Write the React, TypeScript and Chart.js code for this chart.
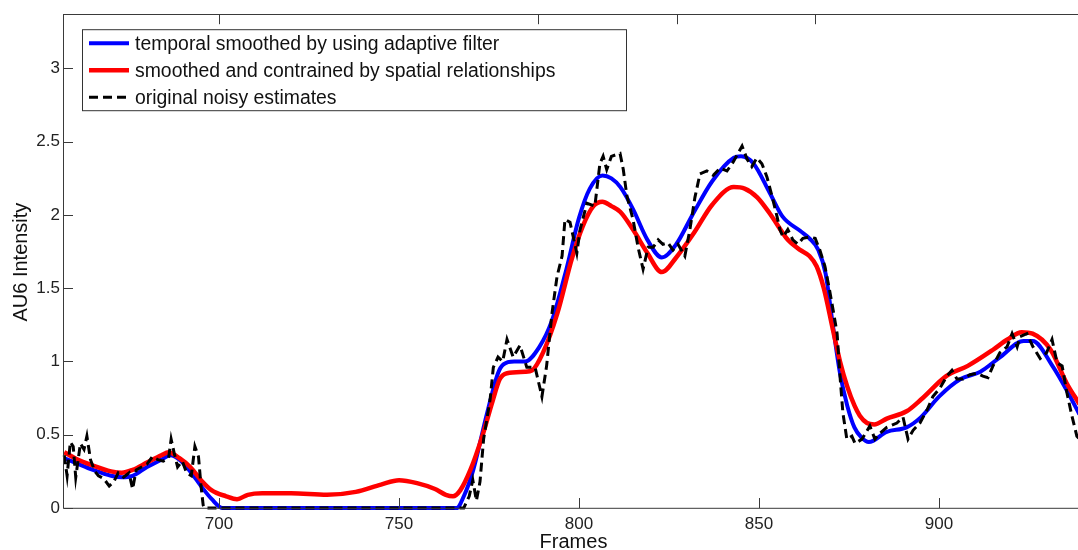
import React, { useEffect, useRef } from "react";
import { Chart, registerables } from "chart.js";

Chart.register(...registerables);

const xTicks = [700, 750, 800, 850, 900];
const yTicks = [0, 0.5, 1, 1.5, 2, 2.5, 3];
const topTickFrames = [700, 788.6, 827.2, 865.6];

const legendLabels = [
  "temporal smoothed by using adaptive filter",
  "smoothed and contrained by spatial relationships",
  "original noisy estimates",
];
const xTitle = "Frames";
const yTitle = "AU6 Intensity";

const blueFrames = [
  657, 660, 665, 670, 673, 676, 680, 684, 686.5, 689,
  692, 695, 698, 701, 766, 768, 770.5, 774.5, 777.5, 779,
  782, 785, 789, 792.5, 796.5, 800, 803, 806.5, 809, 811.5,
  815, 819, 823, 827, 831.5, 837, 843, 845, 848.5, 853,
  856.5, 861.5, 864, 866.5, 868.5, 870.5, 872.5, 874.5, 876.5, 878.5,
  880.5, 885.5, 891, 895, 900, 906, 911.5, 917, 923.5, 926,
  931.5, 936, 939,
];
const blueValues = [
  0.34, 0.31, 0.26, 0.22, 0.21, 0.22, 0.28, 0.33, 0.36, 0.33,
  0.25, 0.15, 0.06, 0, 0, 0.08, 0.25, 0.65, 0.92, 0.98,
  1.0, 1.0, 1.1, 1.28, 1.63, 1.98, 2.18, 2.27, 2.25, 2.19,
  2.04, 1.83, 1.71, 1.8, 2.0, 2.23, 2.39, 2.4, 2.35, 2.15,
  1.99, 1.89, 1.84, 1.76, 1.6, 1.25, 0.92, 0.7, 0.55, 0.48,
  0.45, 0.52, 0.55, 0.62, 0.76, 0.88, 0.93, 1.03, 1.14, 1.14,
  0.97, 0.78, 0.64,
];

const redFrames = [
  657, 660, 665, 670, 673, 676, 680, 684, 686, 689,
  692, 695, 698, 702, 705, 708, 712, 720, 730, 738,
  745, 750, 755, 760, 763, 765, 767, 770, 773, 776,
  778, 780, 785, 787, 790, 794, 798, 801, 804, 806.5,
  809, 811.5, 815, 819, 823, 827, 832, 837, 843, 846,
  849.5, 853, 858, 861.5, 864, 866, 868, 870.5, 872.5, 874.5,
  876.5, 878, 880, 882, 885.5, 891, 895, 902, 908, 915,
  919, 923, 926, 931, 935.5, 939,
];
const redValues = [
  0.38, 0.34, 0.29, 0.25, 0.24, 0.26, 0.31, 0.36, 0.38, 0.34,
  0.28, 0.19, 0.12, 0.08, 0.06, 0.09, 0.1, 0.1, 0.09, 0.11,
  0.16, 0.19, 0.17, 0.13, 0.09, 0.08, 0.12, 0.27, 0.48, 0.73,
  0.88, 0.92, 0.93, 0.94, 1.06, 1.33, 1.7, 1.92, 2.06, 2.09,
  2.06, 2.02, 1.9, 1.74, 1.61, 1.71, 1.88, 2.07, 2.19, 2.18,
  2.12, 2.01, 1.83, 1.76, 1.72, 1.65, 1.5, 1.22, 1.0, 0.83,
  0.7, 0.63, 0.58, 0.57, 0.61, 0.66, 0.74, 0.9, 0.97, 1.08,
  1.15, 1.2, 1.19, 1.08, 0.85, 0.71,
];

const blackFrames = [
  657, 657.8, 658.7, 659.5, 660.2, 661.5, 662.5, 663.3, 664.3, 665.5,
  666.5, 668, 669.5, 670.8, 672, 673.5, 675, 676, 677, 678.5,
  680, 681.5, 683, 684.5, 686, 686.7, 687.5, 688.5, 689.8, 691,
  692.3, 693.3, 694.3, 695, 695.6, 696, 768, 769.5, 770.5, 771.5,
  772.5, 773.5, 775.3, 776.2, 777.5, 778.8, 780, 781.7, 783.6, 785.5,
  787.8, 789.7, 791, 792.5, 793.9, 795.3, 796.1, 797.5, 799.4, 800.3,
  802.2, 804.4, 805.8, 806.7, 807.7, 809, 811.4, 812.3, 813.3, 815,
  816.4, 817.8, 819.2, 820.6, 822, 823.3, 824.7, 826.1, 827.5, 829.4,
  830.8, 832.2, 833.6, 835.5, 837.3, 839.2, 841.1, 842.8, 845.3, 846.7,
  848, 849.4, 850.8, 852.2, 853.6, 855, 855.8, 856.7, 858, 859.4,
  860.8, 862.2, 864, 865.6, 866.9, 868.3, 869.5, 870.6, 871.7, 872.5,
  873.3, 874.4, 875.8, 876.7, 878.6, 880.8, 882.2, 883.6, 885.5, 888.3,
  890, 891.4, 892.8, 894.7, 896.7, 898.3, 900.3, 902.2, 903.6, 905,
  906.7, 908.6, 910.6, 912.2, 913.6, 915, 916.9, 918.9, 920.3, 921.7,
  922.5, 924.4, 926.1, 928.1, 929.9, 931.4, 932.8, 934.2, 935.5, 936.9,
  938.3, 939.5,
];
const blackValues = [
  0.36, 0.22, 0.45, 0.42, 0.21, 0.44, 0.40, 0.49, 0.33, 0.25,
  0.22, 0.20, 0.15, 0.18, 0.24, 0.21, 0.24, 0.13, 0.26, 0.28,
  0.30, 0.35, 0.33, 0.32, 0.34, 0.47, 0.38, 0.28, 0.32, 0.24,
  0.22, 0.42, 0.35, 0.15, 0.02, 0, 0, 0.08, 0.19, 0.05,
  0.18, 0.47, 0.74, 0.96, 1.03, 1.0, 1.15, 1.03, 1.11, 0.96,
  0.96, 0.76, 0.97, 1.33, 1.58, 1.72, 1.97, 1.95, 1.74, 1.90,
  2.08, 2.06, 2.35, 2.40, 2.31, 2.40, 2.42, 2.31, 2.13, 1.97,
  1.78, 1.63, 1.78, 1.78, 1.83, 1.80, 1.81, 1.76, 1.80, 1.72,
  1.90, 2.12, 2.28, 2.30, 2.27, 2.32, 2.30, 2.36, 2.47, 2.38,
  2.33, 2.39, 2.35, 2.26, 2.13, 1.99, 1.90, 1.85, 1.90, 1.83,
  1.80, 1.84, 1.85, 1.84, 1.76, 1.65, 1.50, 1.35, 1.19, 0.90,
  0.65, 0.47, 0.49, 0.44, 0.47, 0.56, 0.47, 0.51, 0.55, 0.58,
  0.62, 0.47, 0.53, 0.58, 0.67, 0.76, 0.82, 0.90, 0.94, 0.88,
  0.88, 0.91, 0.92, 0.90, 0.89, 0.97, 1.06, 1.10, 1.19, 1.10,
  1.17, 1.19, 1.10, 1.02, 1.06, 1.15, 0.99, 0.97, 0.79, 0.63,
  0.49, 0.46,
];

const FONT = "'Liberation Sans', Arial, Helvetica, sans-serif";
const AXIS_COLOR = "#3a3a3a";

const toPoints = (xs: number[], ys: number[]) => xs.map((x, i) => ({ x, y: ys[i] }));

const decorPlugin = {
  id: "decor",
  afterDraw(chart: any) {
    const { ctx, chartArea: a, scales } = chart;
    const xs = scales.x;
    const ys = scales.y;
    ctx.save();
    ctx.strokeStyle = AXIS_COLOR;
    ctx.lineWidth = 1;
    ctx.strokeRect(Math.round(a.left) - 0.5, Math.round(a.top) + 0.5, a.right - a.left, a.bottom - a.top);
    ctx.beginPath();
    xTicks.forEach((v) => {
      const px = Math.round(xs.getPixelForValue(v)) + 0.5;
      ctx.moveTo(px, a.bottom);
      ctx.lineTo(px, a.bottom - 10);
    });
    topTickFrames.forEach((v) => {
      const px = Math.round(xs.getPixelForValue(v)) + 0.5;
      ctx.moveTo(px, a.top);
      ctx.lineTo(px, a.top + 10);
    });
    yTicks.forEach((v) => {
      const py = Math.round(ys.getPixelForValue(v)) + 0.5;
      ctx.moveTo(a.left, py);
      ctx.lineTo(a.left + 9, py);
    });
    ctx.stroke();

    const lx = a.left + 18;
    const ly = a.top + 15;
    const lw = 544;
    const lh = 81;
    ctx.fillStyle = "#ffffff";
    ctx.fillRect(lx, ly, lw, lh);
    ctx.strokeStyle = "#333";
    ctx.lineWidth = 1;
    ctx.strokeRect(lx + 0.5, ly + 0.5, lw, lh);
    const rowY = [ly + 14, ly + 41, ly + 68];
    const styles = [
      { color: "#0000ff", width: 4, dash: [] as number[] },
      { color: "#ff0000", width: 4.5, dash: [] as number[] },
      { color: "#000000", width: 3, dash: [9, 5] },
    ];
    styles.forEach((s, i) => {
      ctx.beginPath();
      ctx.strokeStyle = s.color;
      ctx.lineWidth = s.width;
      ctx.setLineDash(s.dash);
      ctx.lineCap = "butt";
      ctx.moveTo(lx + 7, rowY[i]);
      ctx.lineTo(lx + 47, rowY[i]);
      ctx.stroke();
    });
    ctx.setLineDash([]);
    ctx.fillStyle = "#111";
    ctx.font = `19.4px ${FONT}`;
    ctx.textAlign = "left";
    ctx.textBaseline = "middle";
    legendLabels.forEach((t, i) => ctx.fillText(t, lx + 53, rowY[i] + 1));

    ctx.fillStyle = "#111";
    ctx.font = `20px ${FONT}`;
    ctx.textAlign = "center";
    ctx.textBaseline = "alphabetic";
    ctx.fillText(xTitle, (a.left + a.right) / 2, 548);
    ctx.translate(27, (a.top + a.bottom) / 2 + 1);
    ctx.rotate(-Math.PI / 2);
    ctx.fillText(yTitle, 0, 0);
    ctx.restore();
  },
};

export default function App() {
  const ref = useRef<HTMLCanvasElement | null>(null);

  useEffect(() => {
    document.body.style.margin = "0";
    const canvas = ref.current;
    if (!canvas) return;
    const chart = new Chart(canvas, {
      type: "line",
      data: {
        datasets: [
          {
            label: legendLabels[0],
            data: toPoints(blueFrames, blueValues),
            borderColor: "#0000ff",
            borderWidth: 4,
            pointRadius: 0,
            cubicInterpolationMode: "monotone",
            fill: false,
            order: 3,
            clip: 6,
          },
          {
            label: legendLabels[1],
            data: toPoints(redFrames, redValues),
            borderColor: "#ff0000",
            borderWidth: 4.5,
            pointRadius: 0,
            cubicInterpolationMode: "monotone",
            fill: false,
            order: 2,
            clip: 6,
          },
          {
            label: legendLabels[2],
            data: toPoints(blackFrames, blackValues),
            borderColor: "#000000",
            borderWidth: 3,
            borderDash: [9, 5],
            borderCapStyle: "butt",
            pointRadius: 0,
            tension: 0,
            fill: false,
            order: 1,
            clip: 6,
          },
        ],
      },
      options: {
        animation: false,
        responsive: false,
        devicePixelRatio: 1,
        layout: { padding: { left: 0, top: 14, right: 7, bottom: 0 } },
        plugins: { legend: { display: false }, tooltip: { enabled: false } },
        scales: {
          x: {
            type: "linear",
            min: 656.94,
            max: 940,
            grid: { display: false, drawTicks: false },
            border: { display: false },
            afterBuildTicks: (s: any) => {
              s.ticks = xTicks.map((v) => ({ value: v }));
            },
            afterFit: (s: any) => {
              s.height = 42;
            },
            ticks: {
              autoSkip: false,
              maxRotation: 0,
              padding: 6,
              color: "#222",
              font: { family: FONT, size: 17 },
              callback: (v: any) => String(v),
            },
          },
          y: {
            type: "linear",
            min: 0,
            max: 3.37,
            grid: { display: false, drawTicks: false },
            border: { display: false },
            afterBuildTicks: (s: any) => {
              s.ticks = yTicks.map((v) => ({ value: v }));
            },
            afterFit: (s: any) => {
              s.width = 64;
            },
            ticks: {
              padding: 4,
              color: "#222",
              font: { family: FONT, size: 17 },
              callback: (v: any) => String(v),
            },
          },
        },
      },
      plugins: [decorPlugin],
    } as any);
    return () => chart.destroy();
  }, []);

  return (
    <div style={{ width: 1078, height: 550, overflow: "hidden", position: "relative", background: "#fff" }}>
      <canvas ref={ref} width={1090} height={550} style={{ display: "block", width: 1090, height: 550 }} />
    </div>
  );
}
